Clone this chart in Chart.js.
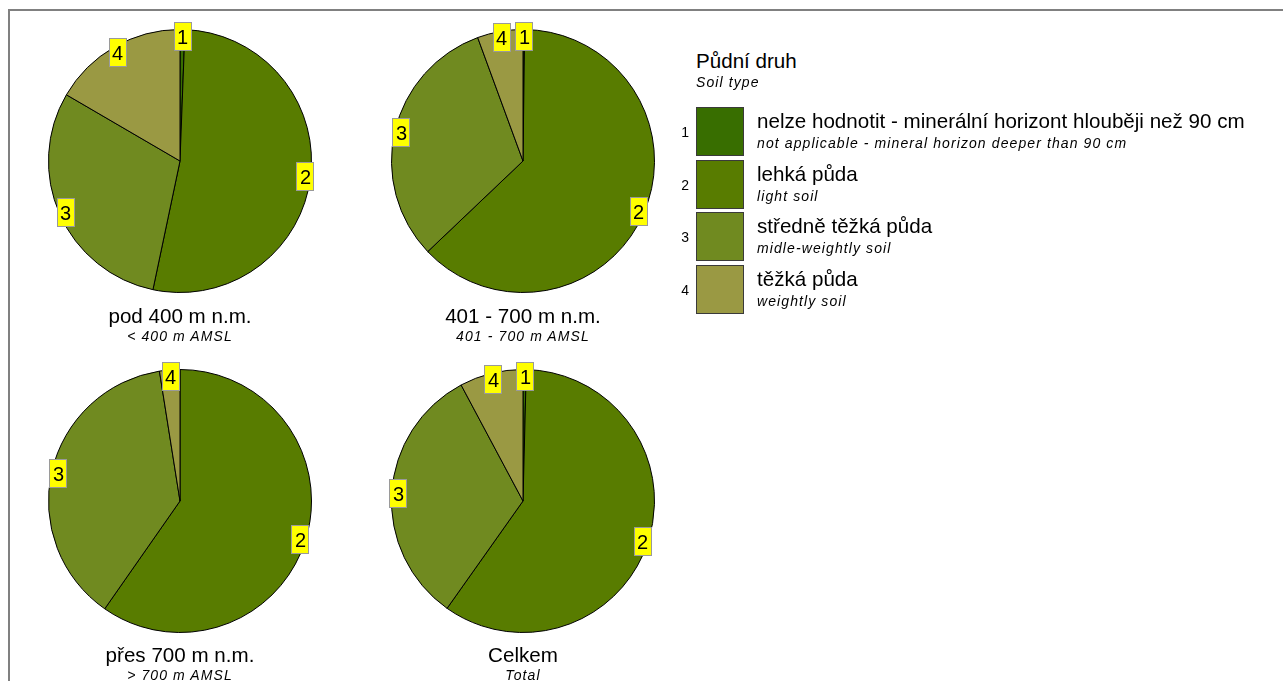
<!DOCTYPE html>
<html>
<head>
<meta charset="utf-8">
<script src="https://cdn.jsdelivr.net/npm/chart.js@4/dist/chart.umd.min.js"></script>
<style>
  html, body { margin:0; padding:0; background:#fff; }
  body { width:1283px; height:681px; position:relative; overflow:hidden; font-family:"Liberation Sans", Arial, sans-serif; color:#000; }
  #frame { position:absolute; left:8px; top:9px; width:1290px; height:700px; border-top:2px solid #808080; border-left:2px solid #808080; }
  .pie { position:absolute; width:300px; height:300px; }
  .t { position:absolute; white-space:nowrap; line-height:1; }
  .main { font-size:20.6px; }
  .sub { font-size:14px; font-style:italic; letter-spacing:1.1px; }
  .ctr { transform:translateX(-50%); text-align:center; }
  .box { position:absolute; width:46px; height:47px; border:1px solid #3a3a3a; }
  .num { position:absolute; font-size:14px; line-height:1; text-align:right; width:20px; }
</style>
</head>
<body>
<div id="frame"></div>
<canvas id="p1" class="pie" width="300" height="300" style="left:30px;top:11px"></canvas>
<canvas id="p2" class="pie" width="300" height="300" style="left:373px;top:11px"></canvas>
<canvas id="p3" class="pie" width="300" height="300" style="left:30px;top:351px"></canvas>
<canvas id="p4" class="pie" width="300" height="300" style="left:373px;top:351px"></canvas>
<div id="texts"></div>
<script>
// ---- data ----
const categories = ["1", "2", "3", "4"];
const catNamesCz = ["nelze hodnotit - minerální horizont hlouběji než 90 cm", "lehká půda", "středně těžká půda", "těžká půda"];
const catNamesEn = ["not applicable - mineral horizon deeper than 90 cm", "light soil", "midle-weightly soil", "weightly soil"];
const colors = ["#386E00", "#587C00", "#708A20", "#9A9943"];
const pod400 = [0.6, 52.7, 30.1, 16.6];
const z401to700 = [0.2, 62.7, 31.5, 5.6];
const pres700 = [0, 59.7, 37.8, 2.5];
const celkem = [0.4, 59.4, 32.4, 7.8];
const pieTitlesCz = ["pod 400 m n.m.", "401 - 700 m n.m.", "přes 700 m n.m.", "Celkem"];
const pieTitlesEn = ["< 400 m AMSL", "401 - 700 m AMSL", "> 700 m AMSL", "Total"];
const legendTitleCz = "Půdní druh";
const legendTitleEn = "Soil type";

// ---- label plugin ----
const boxLabels = {
  id: 'boxLabels',
  afterDatasetsDraw(chart) {
    const ctx = chart.ctx;
    const meta = chart.getDatasetMeta(0);
    const data = chart.data.datasets[0].data;
    ctx.save();
    ctx.font = '20px "Liberation Sans", Arial, sans-serif';
    ctx.textAlign = 'center';
    ctx.textBaseline = 'middle';
    meta.data.forEach((arc, i) => {
      if (!(data[i] > 0)) return;
      const p = arc.getProps(['x','y','startAngle','endAngle','outerRadius'], true);
      const mid = (p.startAngle + p.endAngle) / 2;
      const r = p.outerRadius - 6;
      const cx = p.x + Math.cos(mid) * r;
      const cy = p.y + Math.sin(mid) * r;
      const w = 17, h = 28;
      ctx.fillStyle = '#FFFF00';
      ctx.fillRect(Math.round(cx - w/2) + 0.5, Math.round(cy - h/2) + 0.5, w, h);
      ctx.strokeStyle = '#9a9a9a';
      ctx.lineWidth = 1;
      ctx.strokeRect(Math.round(cx - w/2) + 0.5, Math.round(cy - h/2) + 0.5, w, h);
      ctx.fillStyle = '#000';
      ctx.fillText(chart.data.labels[i], Math.round(cx) + 0.5, Math.round(cy) + 2);
    });
    ctx.restore();
  }
};

function makePie(id, values) {
  new Chart(document.getElementById(id), {
    type: 'pie',
    data: {
      labels: categories,
      datasets: [{ data: values, backgroundColor: colors, borderColor: '#000', borderWidth: 1 }]
    },
    options: {
      responsive: false,
      animation: false,
      layout: { padding: 18 },
      plugins: { legend: { display: false }, tooltip: { enabled: false }, title: { display: false } }
    },
    plugins: [boxLabels]
  });
}
makePie('p1', pod400);
makePie('p2', z401to700);
makePie('p3', pres700);
makePie('p4', celkem);

// ---- texts ----
const texts = document.getElementById('texts');
function addText(cls, txt, left, top) {
  const d = document.createElement('div');
  d.className = 't ' + cls;
  d.textContent = txt;
  d.style.left = left + 'px';
  d.style.top = top + 'px';
  texts.appendChild(d);
  return d;
}
const pieCenters = [[180, 306], [523, 306], [180, 645], [523, 645]];
pieTitlesCz.forEach((t, i) => {
  addText('main ctr', t, pieCenters[i][0], pieCenters[i][1]);
  addText('sub ctr', pieTitlesEn[i], pieCenters[i][0], pieCenters[i][1] + 23);
});
addText('main', legendTitleCz, 696, 51);
addText('sub', legendTitleEn, 696, 75);
const rowTops = [107, 160, 212, 265];
categories.forEach((c, i) => {
  const b = document.createElement('div');
  b.className = 'box';
  b.style.left = '696px';
  b.style.top = rowTops[i] + 'px';
  b.style.background = colors[i];
  texts.appendChild(b);
  const n = document.createElement('div');
  n.className = 'num';
  n.textContent = c;
  n.style.left = '669px';
  n.style.top = (rowTops[i] + 18) + 'px';
  texts.appendChild(n);
  addText('main', catNamesCz[i], 757, rowTops[i] + 4);
  addText('sub', catNamesEn[i], 757, rowTops[i] + 29);
});
</script>
</body>
</html>
